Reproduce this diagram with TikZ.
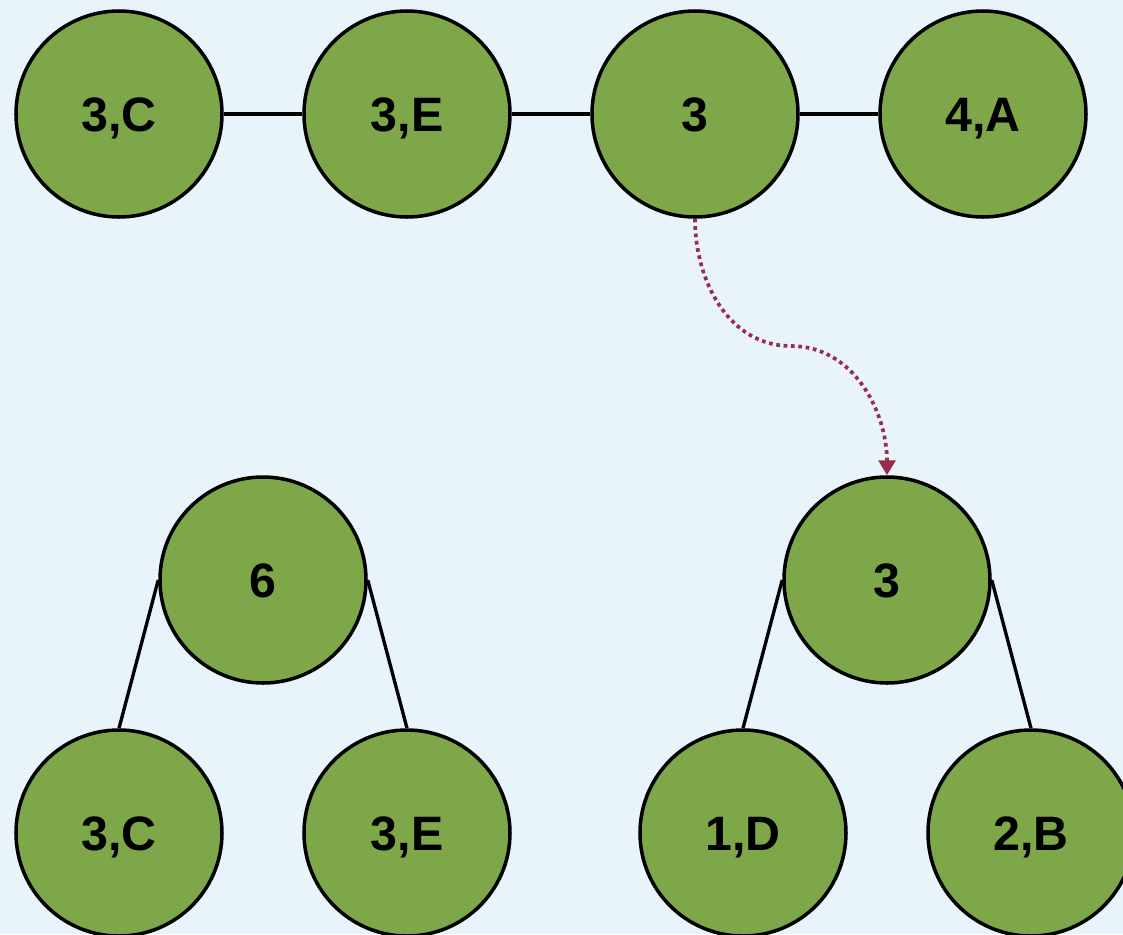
\documentclass[tikz,border=0pt]{standalone}
\usepackage{fontspec}
\setmainfont{Liberation Sans}
\usetikzlibrary{arrows.meta}
\definecolor{bgblue}{HTML}{E8F3FA}
\definecolor{leafgreen}{HTML}{7EA74A}
\definecolor{linkred}{HTML}{9B2A4F}
\tikzset{
  treenode/.style={circle, draw=black, line width=2pt, fill=leafgreen,
    minimum size=206*0.02cm, inner sep=0pt,
    text height=19.7pt, text depth=0pt,
    font=\fontsize{27.5}{30}\selectfont\bfseries},
  edge/.style={draw=black, line width=1.9pt},
  moveto/.style={draw=linkred, line width=2.1pt, dash pattern=on 2.1pt off 2.1pt,
    -{Triangle[length=8.5pt,width=9.5pt]}}
}
\begin{document}
\begin{tikzpicture}[x=0.02cm, y=-0.02cm]
  \fill[bgblue] (0,0) rectangle (1123,934);
  \useasboundingbox (0,0) rectangle (1123,934);

  % linked list of the top row
  \node[treenode] (l1) at (119,114) {3,C};
  \node[treenode] (l2) at (407,114) {3,E};
  \node[treenode] (l3) at (695,114) {3};
  \node[treenode] (l4) at (983,114) {4,A};
  \draw[edge] (l1) -- (l2);
  \draw[edge] (l2) -- (l3);
  \draw[edge] (l3) -- (l4);

  % left tree
  \node[treenode] (t6) at (263,580) {6};
  \node[treenode] (tc) at (119,833) {3,C};
  \node[treenode] (te) at (407,833) {3,E};
  \draw[edge] (t6.west) -- (tc.north);
  \draw[edge] (t6.east) -- (te.north);

  % right tree
  \node[treenode] (t3) at (887,580) {3};
  \node[treenode] (td) at (743,833) {1,D};
  \node[treenode] (tb) at (1031,833) {2,B};
  \draw[edge] (t3.west) -- (td.north);
  \draw[edge] (t3.east) -- (tb.north);

  % the list node points to its tree
  \coordinate (mid) at (791,346);
  \draw[moveto] (l3.south) to[out=-90,in=180] (mid) to[out=0,in=90] (t3.north);
\end{tikzpicture}
\end{document}
